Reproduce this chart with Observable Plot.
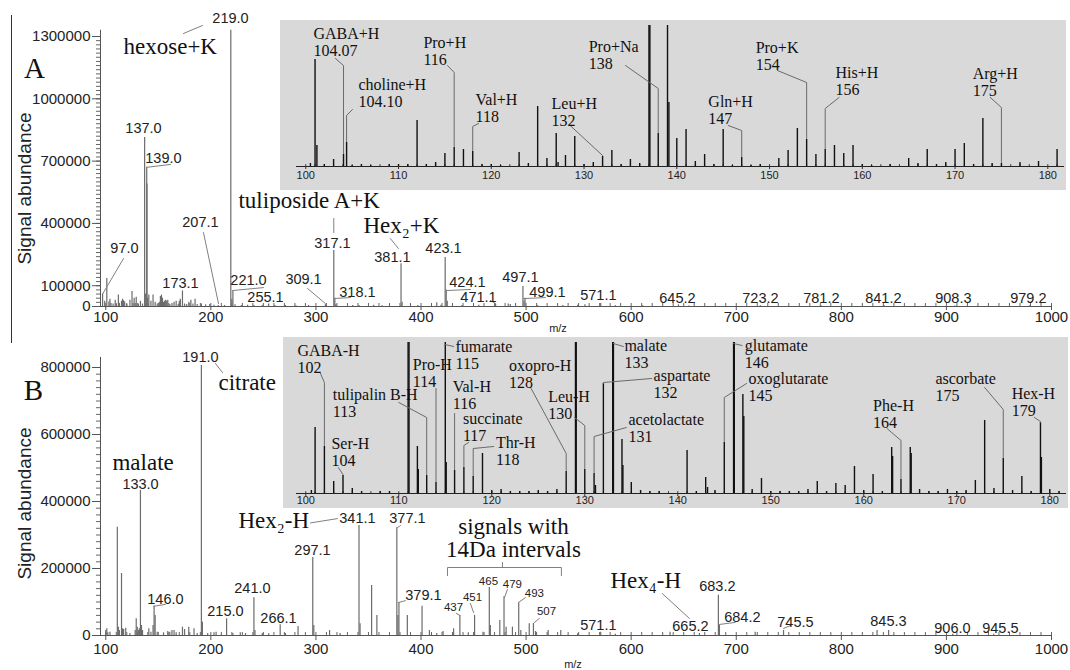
<!DOCTYPE html>
<html><head><meta charset="utf-8">
<script src="https://cdn.jsdelivr.net/npm/d3@7"></script>
<script src="https://cdn.jsdelivr.net/npm/@observablehq/plot@0.6"></script>
<style>
body{margin:0;background:#fff;}
#chart{position:relative;width:1070px;height:670px;overflow:hidden;background:#fff;}
#chart > svg, #chart > div{position:absolute;}
</style></head><body><div id="chart"></div>
<script>
// ---------------- DATA ----------------
const xMajorTicks = [100,200,300,400,500,600,700,800,900,1000];
const yTicksA = [0,100000,400000,700000,1000000,1300000];
const yTicksB = [0,200000,400000,600000,800000];
const insetTicks = [100,110,120,130,140,150,160,170,180];

// main spectrum A: [m/z, abundance]
const peaksA = [[97,60000],[99,25000],[101,135000],[103,22000],[104,35000],[105,15000],[107,12000],[109,30000],[110,10000],[112,55000],[113,15000],[115,25000],[116,35000],[117,28000],[118,22000],[120,10000],[123,30000],[125,72000],[126,15000],[127,40000],[128,15000],[129,45000],[131,12000],[133,25000],[135,12000],[137,814000],[138,60000],[139,670000],[139.2,590000],[140,40000],[141,55000],[143,25000],[145,55000],[147,20000],[149,12000],[151,20000],[152,48000],[153,55000],[154,40000],[155,20000],[156,25000],[157,30000],[158,25000],[159,30000],[161,10000],[163,15000],[165,20000],[167,25000],[169,10000],[170,25000],[171,35000],[173,75000],[175,12000],[177,10000],[179,20000],[181,30000],[183,12000],[185,35000],[187,10000],[191,12000],[195,8000],[199,10000],[203,6000],[207,5000],[213,5000],[219,1330000],[220,35000],[221,77000],[223,8000],[229,5000],[235,6000],[241,5000],[249,5000],[255,12000],[261,5000],[271,5000],[281,4000],[293,5000],[309,8000],[317,270000],[318,40000],[319,10000],[335,5000],[341,5000],[355,6000],[363,4000],[381,206000],[382,20000],[397,5000],[415,18000],[419,6000],[423,236000],[424,80000],[425,25000],[439,5000],[455,6000],[471,10000],[483,12000],[485,10000],[497,96000],[498,25000],[499,40000],[511,4000],[535,5000],[549,6000],[556,8000],[571,14000],[585,4000],[611,4000],[645,8000],[655,3000],[723,4000],[781,3000],[841,3000],[908,3000],[979,3000]];

// main spectrum B
const peaksB = [[100,15000],[101,20000],[102,8000],[104,10000],[111,323000],[112,25000],[113,15000],[115,185000],[116,20000],[117,18000],[119,22000],[123,6000],[128,15000],[129,50000],[130,25000],[131,15000],[132,20000],[133,433000],[134,30000],[135,15000],[141,20000],[143,10000],[145,30000],[146,87000],[147,60000],[149,10000],[155,8000],[159,12000],[161,10000],[163,15000],[165,15000],[167,8000],[173,25000],[175,18000],[179,25000],[184,20000],[187,6000],[191,806000],[192,40000],[197,6000],[203,8000],[205,10000],[215,50000],[221,6000],[228,8000],[233,6000],[241,113000],[242,15000],[249,6000],[255,5000],[266,32000],[271,6000],[283,27000],[297,233000],[298,30000],[313,15000],[323,6000],[341,328000],[342,35000],[353,149000],[358,60000],[377,322000],[378,60000],[379,98000],[387,60000],[401,87000],[408,15000],[415,6000],[421,12000],[431,20000],[437,60000],[445,8000],[451,60000],[459,10000],[465,143000],[466,30000],[475,45000],[479,116000],[481,25000],[487,25000],[493,98000],[495,15000],[503,35000],[507,36000],[509,12000],[521,15000],[533,15000],[549,5000],[571,10000],[585,4000],[637,10000],[665,6000],[683,120000],[684,30000],[718,10000],[745,15000],[834,15000],[845,15000],[906,4000],[945,4000]];

// inset A (m/z 100-180)
const insetPeaksA = [[100.5,3000],[101,107000],[101.2,21000],[102,2000],[103,7000],[104.07,12000],[104.4,24000],[105,1000],[106,2000],[107,1000],[109,2000],[110,2000],[111,2000],[112,46000],[113,2000],[114,4000],[115,13000],[116,19000],[117,17000],[118,15000],[119,2000],[120,2000],[121,1000],[123,14000],[124,3000],[125,60000],[126,8000],[127,33000],[127.2,4000],[128,11000],[129,30000],[130,2000],[131,4000],[132,10000],[133,16000],[134,2000],[135,7000],[136,3000],[137,500000],[137.1,500000],[138,33000],[139,500000],[139.15,64000],[140,28000],[141,37000],[142,5000],[143,12000],[144,2000],[145,37000],[146,1000],[147,9000],[148,1000],[149,2000],[151,8000],[152,16000],[153,38000],[154,27000],[155,12000],[156,17000],[157,21000],[158,13000],[159,21000],[160,2000],[161,1000],[163,2000],[165,8000],[166,3000],[167,17000],[168,2000],[169,4000],[170,17000],[171,23000],[172,2000],[173,48000],[174,3000],[175,3000],[177,4000],[179,5000],[181,17000]];

// inset B (m/z 100-180)
const insetPeaksB = [[100.6,3000],[101,66000],[102,47000],[103,12000],[104,18000],[105,5000],[106,2000],[108,2000],[109,2000],[111,200000],[111.1,200000],[112,47000],[112.1,24000],[113,18000],[114,11000],[115,200000],[115.1,31000],[116,23000],[117,26000],[118,17000],[119,40000],[120,3000],[121,4000],[122,2000],[123,2000],[124,2000],[125,3000],[126,2000],[127,4000],[128,22000],[129,200000],[129.08,200000],[130,24000],[131,20000],[131.15,8000],[132,110000],[133,200000],[133.08,200000],[134,54000],[134.1,28000],[135,11000],[136,3000],[137,2000],[138,2000],[141,43000],[142,2000],[143,16000],[143.2,6000],[144,3000],[145,51000],[146,200000],[146.08,200000],[147,99000],[147.1,77000],[148,4000],[149,15000],[150,2000],[151,2000],[152,2000],[153,2000],[154,4000],[155,12000],[156,2000],[157,10000],[158,8000],[159,27000],[160,3000],[161,19000],[162,2000],[163,46000],[163.1,37000],[164,14000],[165,46000],[165.1,40000],[166,4000],[167,2000],[168,2000],[169,4000],[170,2000],[171,3000],[172,13000],[173,73000],[174,5000],[175,35000],[176,3000],[177,17000],[178,2000],[179,71000],[179.1,36000],[180,4000],[181,2000]];

// annotations (positions in data units: m/z, abundance)
const peakLabelsA = [
 {text:"219.0",mz:218.7,v:1386000},{text:"137.0",mz:135.9,v:857000},{text:"139.0",mz:154.9,v:712000},
 {text:"97.0",mz:117.8,v:279000},{text:"173.1",mz:171.1,v:111000},{text:"207.1",mz:190.1,v:404000},
 {text:"221.0",mz:235.8,v:125000},{text:"255.1",mz:252,v:43000},{text:"317.1",mz:315.7,v:303000},
 {text:"381.1",mz:372.8,v:236000},{text:"423.1",mz:421.4,v:279000},{text:"309.1",mz:288.2,v:130000},
 {text:"318.1",mz:339.5,v:67000},{text:"424.1",mz:444.2,v:116000},{text:"471.1",mz:454.7,v:43000},
 {text:"497.1",mz:494.6,v:140000},{text:"499.1",mz:520.3,v:67000},{text:"571.1",mz:568.8,v:53000},
 {text:"645.2",mz:644,v:38000},{text:"723.2",mz:723,v:38000},{text:"781.2",mz:781,v:38000},
 {text:"841.2",mz:840,v:38000},{text:"908.3",mz:906.6,v:38000},{text:"979.2",mz:978,v:38000}
];
const nameLabelsA = [
 {text:"hexose+K",mz:116.9,v:1251900},{text:"tuliposide A+K",mz:226.3,v:510000},{text:"Hex₂+K",mz:345.2,v:390000}
];
const leadersA = [
 [[174,1314500],[192,1353000]],[[139,670000],[161.6,684000]],[[116.9,231000],[97,60000]],
 [[193,356000],[207.3,14000]],[[221,77000],[250.1,91000]],[[317,424000],[317,356000]],
 [[370.9,327000],[378.5,279000]],[[292,87000],[309,14000]],[[317.6,38500],[332.9,43000]],
 [[425.2,77000],[447.1,82000]],[[466,29000],[471,14000]],[[497.5,38000],[518.4,43000]]
];

const peakLabelsB = [
 {text:"191.0",mz:190.1,v:830000},{text:"133.0",mz:133.1,v:450000},{text:"146.0",mz:156.8,v:107000},
 {text:"215.0",mz:213.9,v:72000},{text:"241.0",mz:239.6,v:140000},{text:"266.1",mz:264.4,v:51000},
 {text:"341.1",mz:339.5,v:349000},{text:"377.1",mz:387.1,v:349000},{text:"297.1",mz:296.7,v:254000},
 {text:"379.1",mz:402.3,v:119000},{text:"571.1",mz:568.8,v:30000},{text:"665.2",mz:656.4,v:27000},
 {text:"683.2",mz:682,v:146000},{text:"684.2",mz:705.8,v:54000},{text:"745.5",mz:756.3,v:39000},
 {text:"845.3",mz:844.8,v:42000},{text:"906.0",mz:905.7,v:21000},{text:"945.5",mz:951.3,v:21000}
];
const smallLabelsB = [
 {text:"437",mz:430.9,v:83600},{text:"451",mz:449,v:113000},{text:"465",mz:464.2,v:161000},
 {text:"479",mz:487,v:152000},{text:"493",mz:507.9,v:125000},{text:"507",mz:519.4,v:72000}
];
const nameLabelsB = [
 {text:"citrate",mz:207.3,v:755000},{text:"malate",mz:106.4,v:515000},
 {text:"Hex₂-H",mz:226.3,v:343000},{text:"Hex₄-H",mz:580.3,v:164000}
];
const groupLabelB = [{text:"signals with\n14Da intervals",mz:488,v:291000}];
const leadersB = [
 [[204.4,812000],[211.1,785000]],[[145.4,87000],[156.8,93000]],[[294.8,336000],[320.5,349000]],
 [[377.6,322000],[380.4,328000]],[[378.5,98500],[385.2,104000]],[[433.5,66000],[437,60000]],
 [[447,95500],[450,69000]],[[479.4,113000],[482.2,137000]],[[492.7,98500],[499.4,113000]],
 [[512.7,51000],[508,39000]],[[629.7,125000],[655.4,51000]],[[684,33000],[699,39000]],
 [[745,21000],[751.8,30000]],
 // bracket
 [[425.2,179000],[425.2,203000],[533.6,203000],[533.6,179000]],[[477.5,203000],[477.5,218000]]
];

const insetLabelsA = [
 {text:"GABA+H\n104.07",mz:100.83,v:124500},{text:"choline+H\n104.10",mz:105.68,v:73000},
 {text:"Pro+H\n116",mz:112.68,v:115000},{text:"Val+H\n118",mz:118.3,v:58000},
 {text:"Leu+H\n132",mz:126.5,v:54500},{text:"Pro+Na\n138",mz:130.5,v:111500},
 {text:"Gln+H\n147",mz:143.4,v:56500},{text:"Pro+K\n154",mz:148.5,v:110500},
 {text:"His+H\n156",mz:157.1,v:85000},{text:"Arg+H\n175",mz:171.9,v:84500}
];
const insetLeadersA = [
 [[103.2,108000],[104.07,101000],[104.07,13000]],[[105.03,57000],[104.4,51000],[104.4,25000]],
 [[115.28,101000],[116,94000],[116,20000]],[[118.62,43000],[118,40000],[118,16000]],
 [[128.5,41000],[132,11000]],[[134.47,101000],[138,78000],[138,34000]],
 [[145.55,41000],[147,36000],[147,10000]],[[150.85,96000],[154,84000],[154,28000]],
 [[157.5,69000],[156,58000],[156,18000]],[[173.8,69000],[175,59000],[175,4000]]
];
const insetLabelsB = [
 {text:"GABA-H\n102",mz:99.1,v:134500},{text:"tulipalin B-H\n113",mz:102.9,v:90500},
 {text:"Ser-H\n104",mz:102.76,v:41000},{text:"Pro-H\n114",mz:111.5,v:120500},
 {text:"fumarate\n115",mz:116.1,v:138500},{text:"Val-H\n116",mz:115.8,v:98000},
 {text:"succinate\n117",mz:116.9,v:66500},{text:"Thr-H\n118",mz:120.45,v:42500},
 {text:"oxopro-H\n128",mz:121.86,v:119500},{text:"Leu-H\n130",mz:126.06,v:88000},
 {text:"malate\n133",mz:134.26,v:139000},{text:"aspartate\n132",mz:137.4,v:109000},
 {text:"acetolactate\n131",mz:134.7,v:65000},{text:"glutamate\n146",mz:147.2,v:139500},
 {text:"oxoglutarate\n145",mz:147.6,v:106000},{text:"Phe-H\n164",mz:161,v:79500},
 {text:"ascorbate\n175",mz:167.7,v:106000},{text:"Hex-H\n179",mz:175.9,v:91500}
];
const insetLeadersB = [
 [[101.58,120000],[102,111000],[102,48000]],[[110,91000],[113,76000],[113,19000]],
 [[103.5,26000],[104,19000]],[[114,105000],[114,12000]],[[114.96,149000],[115.9,147000]],
 [[116,80000],[116,24000]],[[117.5,51000],[117,48000],[117,27000]],
 [[120.2,47000],[118,45000],[118,18000]],[[124.23,105000],[128,40000],[128,23000]],
 [[128.9,76000],[130,68000],[130,25000]],[[133.07,150000],[134.15,147000]],
 [[137.2,115000],[132,111000],[132,110000]],[[134.47,66000],[131,57000],[131,21000]],
 [[146,150000],[146.9,148000]],[[147.4,110000],[145,96000],[145,52000]],
 [[162.5,65000],[164,53000],[164,15000]],[[173,106000],[175,84000],[175,36000]],
 [[178.35,76000],[179,72000],[179,71000]]
];

// ---------------- DRAWING ----------------
const serif = "'Liberation Serif','Times New Roman',serif";
const sans = "'Liberation Sans',Arial,sans-serif";
const rows = list => list.flatMap((pts,i)=>pts.map(([mz,v])=>({id:i,mz,v})));
const chart = document.getElementById("chart");

function mainPanel(o){
  const minorX = d3.range(100,1001,10);
  const minorY = d3.range(0,o.yMax+1,20000);
  const p = Plot.plot({
    width:1070, height:335, marginLeft:100, marginRight:19, marginTop:o.marginTop, marginBottom:o.marginBottom,
    x:{domain:[95,1000], label:null}, y:{domain:[0,o.yMax], label:null},
    style:{fontFamily:sans, fontSize:"15px", color:"#222", background:"transparent"},
    marks:[
      Plot.ruleY([0],{x1:95,x2:1000,stroke:"#555"}),
      Plot.ruleX([95],{y1:0,y2:o.yTop,stroke:"#555"}),
      Plot.ruleX(minorX,{x:d=>d,y1:0,y2:o.tickLen,stroke:"#666"}),
      Plot.axisY({ticks:minorY,tickSize:4,tickFormat:()=>"",stroke:"#666",label:null}),
      Plot.axisY({ticks:o.yTicks,tickSize:8,tickPadding:2,tickFormat:d3.format("d"),fontSize:15,stroke:"#555",label:null}),
      Plot.axisX({ticks:xMajorTicks,tickSize:o.xTickSize,tickPadding:o.xTickPad,tickFormat:d3.format("d"),fontSize:15,stroke:"#555",label:null}),
      Plot.ruleX(o.peaks,{x:d=>d[0],y1:0,y2:d=>d[1],stroke:"#6c6c6c",strokeWidth:1.2}),
      Plot.line(rows(o.leaders),{x:"mz",y:"v",z:"id",stroke:"#808080",strokeWidth:1}),
      Plot.text(o.peakLabels,{x:"mz",y:"v",text:"text",fontSize:14.5,fill:"#222"}),
      ...(o.smallLabels?[Plot.text(o.smallLabels,{x:"mz",y:"v",text:"text",fontSize:11.5,fill:"#222"})]:[]),
      Plot.text(o.nameLabels,{x:"mz",y:"v",text:"text",textAnchor:"start",fontFamily:serif,fontSize:23,fill:"#111"}),
      ...(o.groupLabels?[Plot.text(o.groupLabels,{x:"mz",y:"v",text:"text",fontFamily:serif,fontSize:23,lineHeight:1.0,fill:"#111"})]:[]),
      Plot.text([o.letter],{text:d=>d,frameAnchor:"top-left",textAnchor:"middle",lineAnchor:"middle",dx:o.letterDx,dy:o.letterDy,fontFamily:serif,fontSize:29,fill:"#111"}),
      Plot.text(["Signal abundance"],{text:d=>d,frameAnchor:"left",textAnchor:"middle",lineAnchor:"middle",rotate:-90,dx:-76,dy:o.titleDy,fontSize:19,fill:"#222"}),
      Plot.text(["m/z"],{text:d=>d,frameAnchor:"bottom",textAnchor:"middle",lineAnchor:"middle",dx:o.mzDx,dy:o.mzDy,fontSize:11,fill:"#222"})
    ]
  });
  p.style.left="0px"; p.style.top=o.top+"px";
  chart.appendChild(p);
}

function insetPanel(o){
  const p = Plot.plot({
    width:o.width, height:o.height, marginLeft:o.marginLeft, marginRight:2, marginTop:5, marginBottom:o.marginBottom,
    x:{domain:[99,181.8], label:null}, y:{domain:[0,o.yMax], label:null, axis:null},
    style:{fontFamily:sans, fontSize:"11px", color:"#222", background:"#d9d9d9"},
    marks:[
      Plot.ruleX(d3.range(100,182,1),{x:d=>d,y1:0,y2:1800,stroke:"#333"}),
      Plot.ruleY([0],{stroke:"#222"}),
      Plot.axisX({ticks:insetTicks,tickSize:3,tickPadding:o.tickPad,tickFormat:d3.format("d"),fontSize:11,stroke:"#333",label:null}),
      Plot.ruleX(o.peaks,{x:d=>d[0],y1:0,y2:d=>d[1],stroke:"#111",strokeWidth:1.4,clip:true}),
      Plot.line(rows(o.leaders),{x:"mz",y:"v",z:"id",stroke:"#6a6a6a",strokeWidth:1}),
      Plot.text(o.labels,{x:"mz",y:"v",text:"text",textAnchor:"start",lineAnchor:"middle",lineHeight:1.05,fontFamily:serif,fontSize:16,fill:"#111"})
    ]
  });
  p.style.left=o.left+"px"; p.style.top=o.top+"px";
  chart.appendChild(p);
}

mainPanel({top:0, yMax:1300000, yTop:1330000, yTicks:yTicksA, marginTop:36, marginBottom:29, tickLen:14500,
  xTickSize:4, xTickPad:1, peaks:peaksA, leaders:leadersA, peakLabels:peakLabelsA, nameLabels:nameLabelsA,
  letter:"A", letterDx:-66, letterDy:32, titleDy:17, mzDx:-18, mzDy:22});
mainPanel({top:335, yMax:800000, yTop:830000, yTicks:yTicksB, marginTop:32, marginBottom:35, tickLen:9000,
  xTickSize:5, xTickPad:3, peaks:peaksB, leaders:leadersB, peakLabels:peakLabelsB, smallLabels:smallLabelsB,
  nameLabels:nameLabelsB, groupLabels:groupLabelB,
  letter:"B", letterDx:-67, letterDy:23, titleDy:2, mzDx:-3, mzDy:29});
insetPanel({left:280, top:20, width:786, height:170, marginLeft:16, marginBottom:24, yMax:141000, tickPad:2,
  peaks:insetPeaksA, leaders:insetLeadersA, labels:insetLabelsA});
insetPanel({left:283, top:337, width:785, height:171, marginLeft:13, marginBottom:15, yMax:151000, tickPad:0,
  peaks:insetPeaksB, leaders:insetLeadersB, labels:insetLabelsB});

const border = document.createElement("div");
border.style.cssText="left:11px;top:15px;width:0;height:328px;border-left:1.5px solid #333;";
chart.appendChild(border);
</script></body></html>
